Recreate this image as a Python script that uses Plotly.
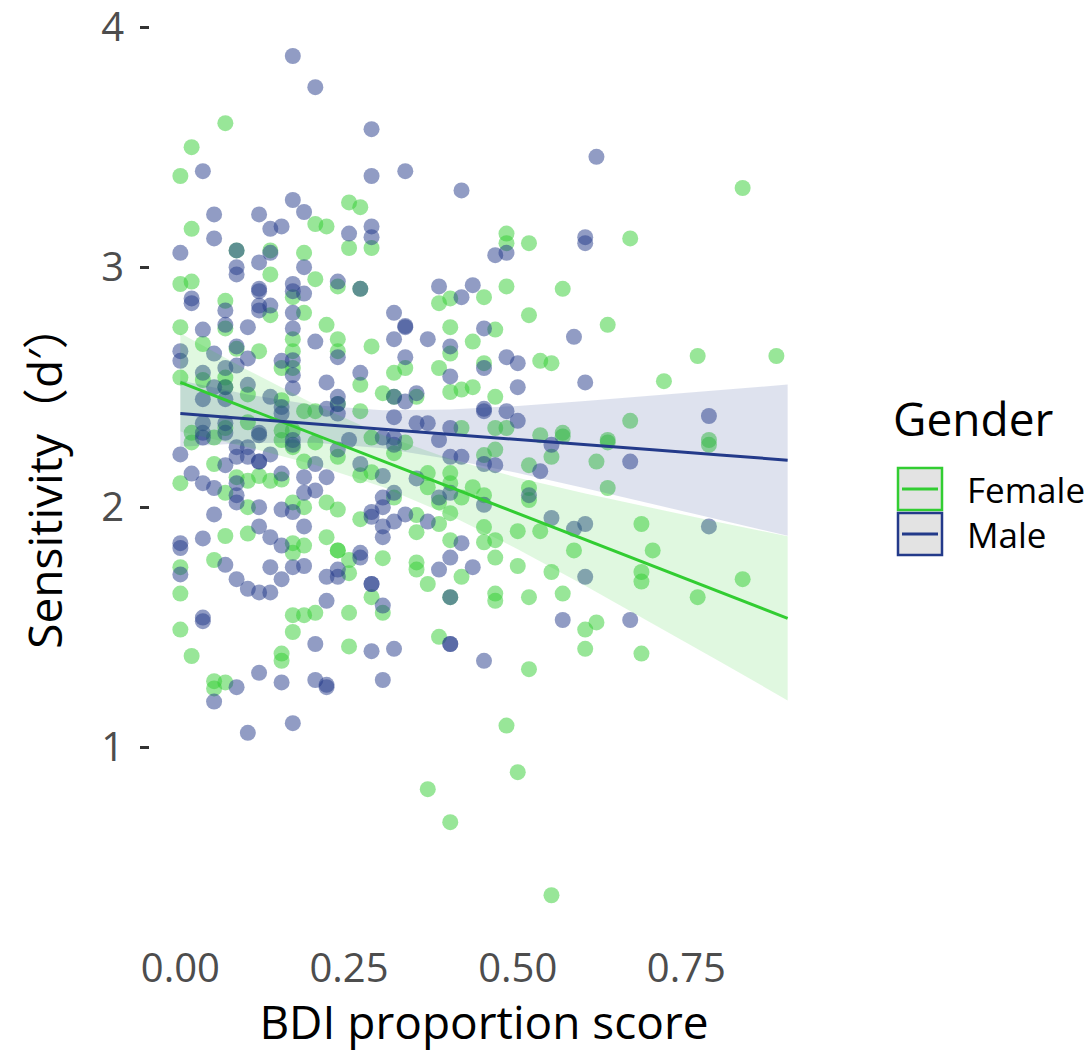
import numpy as np
import plotly.graph_objects as go

# ---------------- data (BDI score in 1/60 steps, sensitivity d') ----------------
female_k = [4, 1, 0, 12, 13, 1, 5, 8, 11,
            15, 16, 15, 17, 29, 29, 50, 31, 40,
            8, 12, 14, 0, 1, 10, 4, 8, 11, 0, 4, 13, 10, 10, 10, 14, 14, 2, 5, 7, 9,
            0, 2, 4, 4, 6, 9, 11, 12, 14, 4, 6, 9, 10, 1,
            16, 23, 24, 27, 29, 24, 28, 17, 26, 24, 20, 19, 16, 23, 24, 25, 26, 27, 28,
            18, 19, 21, 16, 25, 28,
            34, 31, 38, 32, 33, 46, 53, 43, 32, 34, 34, 40, 38, 47, 29,
            33, 38, 47, 31, 37, 38, 31, 31, 30, 32, 41, 35, 42, 30, 33, 41, 41, 50, 46,
            31, 34, 37, 36, 36, 41,
            17, 20, 19, 27, 28, 17, 16, 22, 22, 24, 24, 23, 26, 27, 25, 19, 21, 23, 16,
            24, 24, 27, 27, 28, 21, 14, 15, 15, 18, 21, 21, 25, 28, 22, 17, 24, 28, 28,
            15, 18,
            15, 23, 31, 29, 30, 22, 24, 33,
            0, 1, 3, 3, 4, 9, 9, 10, 10, 11, 12,
            0, 3, 4, 5, 6, 6, 7, 8, 9, 11, 11, 10, 13, 14, 4, 6, 10, 11, 10, 13, 14,
            0, 3, 0, 1, 3, 9, 10, 12, 14]
female_y = [3.60, 3.50, 3.38, 3.18, 3.17, 3.16, 3.07, 3.07, 3.06,
            3.27, 3.25, 3.08, 3.08, 3.14, 3.10, 3.33, 3.10, 3.12,
            2.97, 2.95, 2.92, 2.93, 2.94, 2.875, 2.86, 2.80, 2.81, 2.75, 2.745, 2.76, 2.70, 2.65, 2.58, 2.70, 2.65, 2.68, 2.66, 2.65, 2.58,
            2.54, 2.53, 2.54, 2.50, 2.47, 2.446, 2.40, 2.40, 2.43, 2.33, 2.354, 2.32, 2.32, 2.31,
            2.91, 2.85, 2.87, 2.875, 2.92, 2.75, 2.74, 2.67, 2.69, 2.64, 2.58, 2.56, 2.51, 2.58, 2.48, 2.49, 2.50, 2.60, 2.46,
            2.475, 2.46, 2.46, 2.40, 2.33, 2.33,
            2.91, 2.80, 2.76, 2.61, 2.60, 2.63, 2.63, 2.525, 2.30, 2.31, 2.295, 2.36, 2.28, 2.28, 2.33,
            2.21, 2.27, 2.26, 2.175, 2.19, 2.08, 2.08, 2.03, 1.90, 1.90, 1.93, 1.82, 1.82, 1.755, 1.73, 1.73, 1.69, 1.70, 1.625,
            1.625, 1.64, 1.52, 1.49, 1.41, 1.39,
            2.29, 2.27, 2.225, 2.217, 2.24, 2.146, 2.133, 2.142, 2.083, 2.142, 2.10, 2.02, 2.083, 2.05, 2.04, 2.04, 1.967, 1.93, 1.95,
            1.975, 1.8625, 1.917, 1.854, 1.8625, 1.896, 1.82, 1.78, 1.725, 1.7875, 1.77, 1.74, 1.71, 1.79, 1.68, 1.625, 1.625, 1.64, 1.61,
            1.56, 1.56,
            1.42, 1.46, 1.325, 1.09, 0.896, 0.825, 0.6875, 0.383,
            1.49, 1.38, 1.275, 1.245, 1.27, 1.39, 1.36, 1.48, 1.55, 1.55, 1.56,
            2.10, 2.18, 2.06, 2.125, 2.11, 2.00, 2.13, 2.11, 2.115, 2.19, 2.00, 2.02, 2.02, 1.99, 1.88, 1.89, 1.85, 1.84, 1.81, 1.875, 1.82,
            1.75, 1.78, 1.64, 2.27, 2.29, 2.28, 2.25, 2.27, 2.21]

male_k = [10, 12, 2, 10, 11, 3, 7, 8, 9, 3, 0, 5, 5, 7, 8, 11,
          17, 17, 20, 25, 15, 17, 17, 28, 29, 37, 36, 36,
          5, 14, 1, 1, 7, 7, 10, 10, 11, 4, 7, 8, 7, 10, 2, 4, 6, 10, 12, 14, 3, 5, 6, 5, 9, 0, 0,
          2, 4, 4, 6, 3, 2, 4, 8, 9, 9, 13, 13, 2, 4, 7, 2, 10, 10, 10,
          16, 23, 25, 26, 19, 20, 20, 19, 22, 27, 24, 20, 16, 24, 27, 29, 19, 20, 21, 19, 21, 22, 27, 27, 29, 24, 14, 14, 14,
          35, 30, 30, 36, 47, 30,
          33, 40, 32, 31, 33, 35, 36, 47, 36, 34, 40,
          24, 24, 17, 19, 27, 18, 13,
          2, 5, 3, 7, 9, 12, 12, 13, 10, 6,
          0, 1, 2, 3, 4, 5, 5, 6, 6, 7, 7, 8, 5, 5, 5, 7, 9, 10, 12, 13, 11, 11, 12, 9, 10, 3, 2, 0, 0, 7, 8, 9, 11,
          0, 4, 5, 8, 9, 10, 11, 6, 7, 8, 13, 14, 13, 2,
          2, 4, 7, 10, 14,
          15, 18, 19, 19, 23, 24, 25, 27, 28, 16, 18, 21, 24, 23, 27, 19, 18, 18, 17, 17, 20, 22, 19, 18, 18, 25, 14, 16, 16,
          24, 23, 26, 17, 17, 24, 18]
male_y = [3.88, 3.75, 3.40, 3.28, 3.23, 3.22, 3.22, 3.16, 3.17, 3.12, 3.06, 3.07, 3.00, 3.02, 3.06, 3.00,
          3.575, 3.38, 3.40, 3.32, 3.14, 3.17, 3.125, 3.05, 3.06, 3.46, 3.125, 3.10,
          2.97, 2.94, 2.87, 2.85, 2.91, 2.90, 2.93, 2.90, 2.89, 2.82, 2.84, 2.84, 2.82, 2.81, 2.74, 2.76, 2.75, 2.745, 2.69, 2.625, 2.64, 2.67, 2.62, 2.59, 2.61, 2.65, 2.61,
          2.56, 2.58, 2.50, 2.51, 2.50, 2.45, 2.45, 2.46, 2.417, 2.39, 2.52, 2.41, 2.35, 2.35, 2.31, 2.31, 2.6125, 2.55, 2.496,
          2.91, 2.92, 2.875, 2.925, 2.81, 2.755, 2.75, 2.70, 2.70, 2.745, 2.67, 2.625, 2.56, 2.545, 2.58, 2.625, 2.46, 2.44, 2.475, 2.375, 2.35, 2.35, 2.40, 2.41, 2.40, 2.33, 2.46, 2.43, 2.39,
          2.71, 2.60, 2.50, 2.52, 2.38, 2.36,
          2.26, 2.19, 2.15, 2.05, 1.955, 1.91, 1.93, 1.92, 1.71, 1.53, 1.53,
          1.43, 1.43, 1.40, 1.41, 1.36, 1.28, 1.26,
          1.525, 1.25, 1.19, 1.31, 1.27, 1.43, 1.28, 1.25, 1.10, 1.06,
          2.22, 2.14, 2.10, 2.08, 2.175, 2.25, 2.21, 2.25, 2.21, 2.19, 2.19, 2.22, 2.10, 2.05, 2.02, 2.00, 2.14, 2.26, 2.18, 2.125, 2.125, 2.06, 2.07, 1.99, 1.98, 1.97, 1.87, 1.85, 1.83, 1.92, 1.875, 1.84, 1.92,
          1.72, 1.76, 1.70, 1.75, 1.70, 1.75, 1.755, 1.66, 1.645, 1.645, 1.71, 1.71, 1.61, 1.54,
          2.29, 2.31, 2.30, 2.28, 2.24,
          2.28, 2.29, 2.29, 2.26, 2.28, 2.21, 2.21, 2.18, 2.175, 2.18, 2.13, 2.12, 2.06, 2.04, 2.01, 2.06, 2.04, 2.00, 1.98, 1.96, 1.97, 1.94, 1.94, 1.92, 1.875, 1.85, 1.74, 1.81, 1.79,
          1.79, 1.74, 1.75, 1.68, 1.68, 1.625, 1.59]

female_x = [k / 60 for k in female_k]
male_x = [k / 60 for k in male_k]

# fitted lines with 95% bands
fit_x = [0.0, 0.1, 0.2, 0.3, 0.4, 0.5, 0.6, 0.7, 0.8, 0.9]
female_fit = [2.520, 2.411, 2.302, 2.192, 2.083, 1.974, 1.865, 1.756, 1.646, 1.537]
female_lo = [2.315, 2.250, 2.176, 2.084, 1.965, 1.825, 1.673, 1.516, 1.356, 1.195]
female_hi = [2.725, 2.571, 2.427, 2.301, 2.201, 2.123, 2.057, 1.995, 1.936, 1.879]
male_fit = [2.390, 2.368, 2.347, 2.325, 2.304, 2.282, 2.261, 2.239, 2.218, 2.196]
male_lo = [2.252, 2.267, 2.269, 2.246, 2.200, 2.142, 2.079, 2.014, 1.948, 1.881]
male_hi = [2.528, 2.470, 2.425, 2.404, 2.407, 2.422, 2.442, 2.464, 2.487, 2.511]

x_ticks = [0.0, 0.25, 0.5, 0.75]
x_tick_labels = ["0.00", "0.25", "0.50", "0.75"]
y_ticks = [1, 2, 3, 4]
y_tick_labels = ["1", "2", "3", "4"]

GREEN = "#32CD32"
NAVY = "#233A8A"
FONT = "'Open Sans', 'Noto Sans CJK JP', sans-serif"

fig = go.Figure()

for xs, ys, col, name in [(female_x, female_y, GREEN, "Female"), (male_x, male_y, NAVY, "Male")]:
    fig.add_trace(go.Scatter(x=xs, y=ys, mode="markers", name=name, showlegend=False,
                             marker=dict(size=16, color=col, opacity=0.5, line=dict(width=0))))

for lo, hi, col in [(female_lo, female_hi, "rgba(50,205,50,0.15)"), (male_lo, male_hi, "rgba(35,58,138,0.15)")]:
    fig.add_trace(go.Scatter(x=fit_x + fit_x[::-1], y=hi + lo[::-1], mode="lines", fill="toself",
                             fillcolor=col, line=dict(width=0), showlegend=False, hoverinfo="skip"))

for fy, col in [(female_fit, GREEN), (male_fit, NAVY)]:
    fig.add_trace(go.Scatter(x=fit_x, y=fy, mode="lines", line=dict(color=col, width=3), showlegend=False))

# ---------------- layout ----------------
OFF = 8  # page body margin
W, H = 1084, 1044
L, T = 142, 6
pw, ph = 668, 924
R, B = W - L - pw, H - T - ph


def px(xpage):
    return (xpage - OFF - L) / pw


def py(ypage):
    return (T + ph - (ypage - OFF)) / ph


shapes = []
annotations = []
for (y0, y1, col, lab) in [(468, 510, GREEN, "Female"), (513, 555, NAVY, "Male")]:
    shapes.append(dict(type="rect", xref="paper", yref="paper", x0=px(898), x1=px(942), y0=py(y1), y1=py(y0),
                       fillcolor="#E3E3E3", line=dict(color=col, width=2.5)))
    ym = (y0 + y1) / 2
    shapes.append(dict(type="line", xref="paper", yref="paper", x0=px(902), x1=px(938), y0=py(ym), y1=py(ym),
                       line=dict(color=col, width=3)))
    annotations.append(dict(text=lab, xref="paper", yref="paper", x=px(965), y=py(ym), xanchor="left",
                            yanchor="middle", showarrow=False, font=dict(family=FONT, size=35, color="black")))
annotations.append(dict(text="Gender", xref="paper", yref="paper", x=px(891), y=py(418), xanchor="left",
                        yanchor="middle", showarrow=False, font=dict(family=FONT, size=46, color="black")))

fig.update_layout(
    width=W, height=H, margin=dict(l=L, r=R, t=T, b=B, autoexpand=False),
    plot_bgcolor="white", paper_bgcolor="white",
    showlegend=False, shapes=shapes, annotations=annotations,
    font=dict(family=FONT),
    xaxis=dict(range=[-0.045, 0.945], showgrid=False, zeroline=False, showline=False, automargin=False,
               tickvals=x_ticks, ticktext=x_tick_labels, ticks="", ticklabeloverflow="allow",
               tickfont=dict(family=FONT, size=40, color="#4D4D4D"), ticklabelstandoff=3,
               title=dict(text="BDI proportion score", font=dict(family=FONT, size=46, color="black"), standoff=16)),
    yaxis=dict(range=[0.205, 4.055], showgrid=False, zeroline=False, showline=False, automargin=False,
               tickvals=y_ticks, ticktext=y_tick_labels, ticks="outside", ticklen=9, tickwidth=3,
               tickcolor="#333333", ticklabeloverflow="allow",
               tickfont=dict(family=FONT, size=40, color="#4D4D4D"), ticklabelstandoff=8,
               title=dict(text="Sensitivity（d′）", font=dict(family=FONT, size=46, color="black"), standoff=24)),
)

fig.write_html("out.html")
